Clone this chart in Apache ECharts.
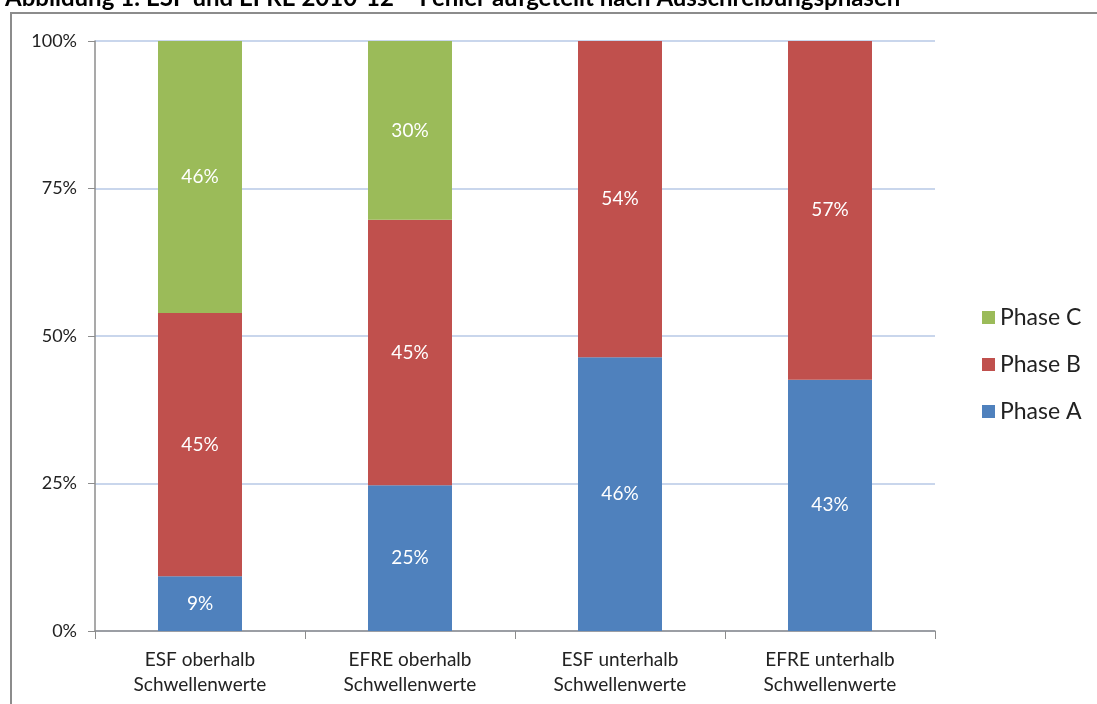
<!DOCTYPE html>
<html>
<head>
<meta charset="utf-8">
<script src="https://cdn.jsdelivr.net/npm/echarts@6/dist/echarts.min.js"></script>
<style>
  html, body { margin: 0; padding: 0; background: #fff; }
  #chart { width: 1097px; height: 704px; }
</style>
</head>
<body>
<div id="chart"></div>
<script>
// Kategorien und Anteile (in %)
const categories = [
  'ESF oberhalb\nSchwellenwerte',
  'EFRE oberhalb\nSchwellenwerte',
  'ESF unterhalb\nSchwellenwerte',
  'EFRE unterhalb\nSchwellenwerte'
];
const phaseA = [9.3, 24.7, 46.4, 42.6];
const phaseB = [44.6, 45.0, 53.6, 57.4];
const phaseC = [46.1, 30.3, 0, 0];
const yTicks = ['0%', '25%', '50%', '75%', '100%'];
const titleText = 'Abbildung 1: ESF und EFRE 2010-12 – Fehler aufgeteilt nach Ausschreibungsphasen';

const FONT = 'Lato, "Open Sans", sans-serif';

const chart = echarts.init(document.getElementById('chart'));

// Beschriftung im Balken, weiss, gerundet
const barLabel = {
  show: true,
  position: 'inside',
  color: '#fff',
  fontSize: 19,
  fontFamily: FONT,
  formatter: p => p.value > 0 ? Math.round(p.value) + '%' : ''
};

const makeSeries = (name, data, color) => ({
  name,
  type: 'bar',
  stack: 'total',
  data,
  barWidth: '40%',
  itemStyle: { color },
  label: barLabel
});

chart.setOption({
  animation: false,
  graphic: [
    // abgeschnittener Titel oben
    {
      type: 'text',
      x: 5,
      y: 10,
      style: {
        text: titleText,
        font: 'bold 24px ' + FONT,
        fill: '#000',
        verticalAlign: 'bottom'
      }
    },
    // Rahmen des Diagrammbereichs
    {
      type: 'polyline',
      shape: { points: [[11, 704], [11, 13], [1097, 13]] },
      style: { stroke: '#8c8c8c', lineWidth: 2, fill: null }
    }
  ],
  grid: { left: 95, right: 162, top: 41, bottom: 73 },
  legend: {
    orient: 'vertical',
    left: 977,
    top: 301,
    itemGap: 24,
    itemWidth: 13,
    itemHeight: 13,
    icon: 'rect',
    data: ['Phase C', 'Phase B', 'Phase A'],
    textStyle: { fontSize: 23, color: '#222', fontFamily: FONT }
  },
  xAxis: {
    type: 'category',
    data: categories,
    axisLine: { lineStyle: { color: '#8c8c8c', width: 1.5 } },
    axisTick: { show: true, length: 8, alignWithLabel: false, lineStyle: { color: '#8c8c8c' } },
    axisLabel: {
      color: '#222',
      fontSize: 19,
      lineHeight: 25,
      margin: 16,
      fontFamily: FONT
    }
  },
  yAxis: {
    type: 'value',
    min: 0,
    max: 100,
    interval: 25,
    axisLine: { show: true, lineStyle: { color: '#8c8c8c', width: 1.5 } },
    axisTick: { show: true, length: 7, inside: false, lineStyle: { color: '#8c8c8c' } },
    axisLabel: {
      color: '#222',
      fontSize: 18,
      margin: 18,
      fontFamily: FONT,
      formatter: v => yTicks[Math.round(v / 25)]
    },
    splitLine: { lineStyle: { color: '#b7c9e6', width: 1.5 } }
  },
  series: [
    makeSeries('Phase A', phaseA, '#4f81bd'),
    makeSeries('Phase B', phaseB, '#c0504d'),
    makeSeries('Phase C', phaseC, '#9bbb59')
  ]
});
</script>
</body>
</html>
